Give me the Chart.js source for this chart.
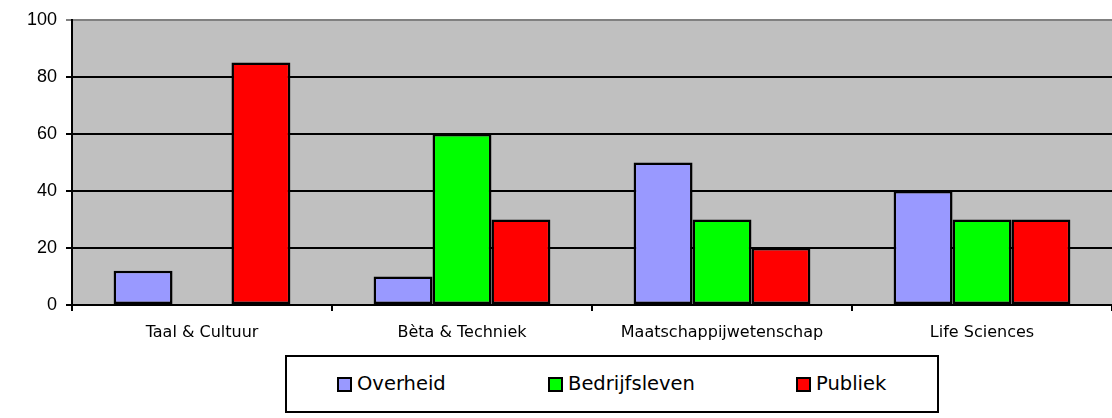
<!DOCTYPE html>
<html>
<head>
<meta charset="utf-8">
<script src="https://cdn.jsdelivr.net/npm/chart.js@4/dist/chart.umd.min.js"></script>
<style>
html,body{margin:0;padding:0;background:#fff;}
#wrap{position:relative;width:1112px;height:418px;}
#legend{position:absolute;left:285px;top:355px;width:650px;height:54px;border:2px solid #000;background:#fff;
 font-family:"DejaVu Sans",sans-serif;font-size:19.5px;color:#000;}
.item{position:absolute;top:15px;display:flex;align-items:center;line-height:24px;}
.sw{width:11px;height:11px;border:2px solid #000;margin-right:5px;}
</style>
</head>
<body>
<div id="wrap">
<canvas id="c" width="1112" height="418"></canvas>
<div id="legend"></div>
</div>
<script>
const categories = ["Taal & Cultuur", "Bèta & Techniek", "Maatschappijwetenschap", "Life Sciences"];
const seriesNames = ["Overheid", "Bedrijfsleven", "Publiek"];
const overheid = [12, 10, 50, 40];
const bedrijfsleven = [0, 60, 30, 30];
const publiek = [85, 30, 20, 30];
const seriesColors = ["#9999FF", "#00FF00", "#FF0000"];
const yTicks = [0, 20, 40, 60, 80, 100];

const values = [overheid, bedrijfsleven, publiek];

const bgPlugin = {
  id: 'plotBg',
  beforeDraw(chart) {
    const a = chart.chartArea, ctx = chart.ctx;
    ctx.save();
    ctx.fillStyle = '#C0C0C0';
    ctx.fillRect(a.left, a.top, a.right - a.left, a.bottom - a.top);
    ctx.restore();
  }
};

new Chart(document.getElementById('c'), {
  type: 'bar',
  data: {
    labels: categories,
    datasets: seriesNames.map((n, i) => ({
      label: n,
      data: values[i],
      backgroundColor: seriesColors[i],
      borderColor: '#000',
      borderWidth: 2.5,
      borderSkipped: false,
      categoryPercentage: 0.68,
      barPercentage: 1.0
    }))
  },
  options: {
    responsive: false,
    animation: false,
    layout: { padding: { top: 16, right: 0, left: 0, bottom: 0 } },
    plugins: { legend: { display: false }, tooltip: { enabled: false } },
    scales: {
      x: {
        offset: true,
        grid: { offset: true, drawOnChartArea: false, drawTicks: true, tickLength: 6, color: '#000', lineWidth: 2 },
        border: { display: true, color: '#000', width: 2 },
        ticks: { color: '#000', font: { family: '"DejaVu Sans", sans-serif', size: 16 }, padding: 12, maxRotation: 0 },
        afterFit(s) { s.height = 113; }
      },
      y: {
        min: 0, max: 100,
        afterBuildTicks(s) { s.ticks = yTicks.map(v => ({ value: v })); },
        grid: {
          color: ctx => (ctx.tick && ctx.tick.value === 100) ? '#808080' : '#000',
          lineWidth: 2, tickLength: 6, drawTicks: true
        },
        border: { display: true, color: '#000', width: 2 },
        ticks: { color: '#000', font: { family: '"Liberation Sans", Arial, sans-serif', size: 18 }, padding: 9 },
        afterFit(s) { s.width = 72; }
      }
    }
  },
  plugins: [bgPlugin]
});

const legend = document.getElementById('legend');
const lefts = [50, 261, 509];
seriesNames.forEach((n, i) => {
  const d = document.createElement('div');
  d.className = 'item';
  d.style.left = lefts[i] + 'px';
  const sw = document.createElement('span');
  sw.className = 'sw';
  sw.style.background = seriesColors[i];
  const t = document.createElement('span');
  t.textContent = n;
  d.appendChild(sw); d.appendChild(t);
  legend.appendChild(d);
});
</script>
</body>
</html>
